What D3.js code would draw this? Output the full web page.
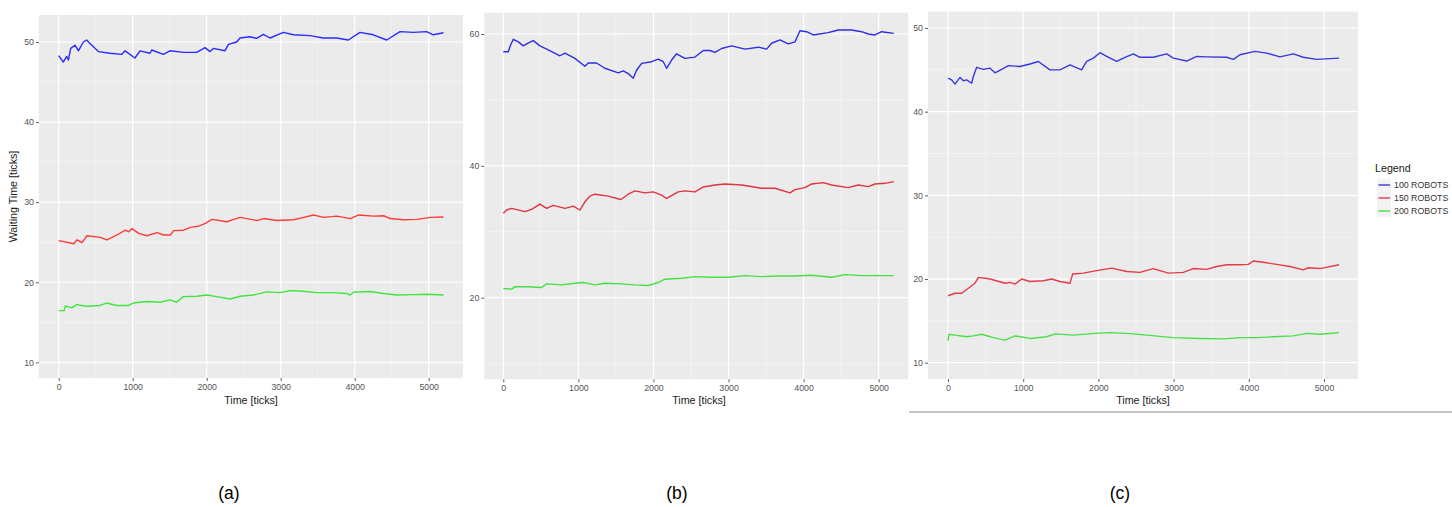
<!DOCTYPE html>
<html>
<head>
<meta charset="utf-8">
<script src="https://cdn.jsdelivr.net/npm/d3@7"></script>
<style>
  html, body { margin: 0; padding: 0; background: #ffffff; }
  svg { display: block; }
  text { font-family: "Liberation Sans", Arial, sans-serif; }
</style>
</head>
<body>
<svg id="chart" width="1452" height="507"></svg>
<script>
// ---- data: waiting time [ticks] against simulation time [ticks] ----
const seriesNames = ["100 ROBOTS", "150 ROBOTS", "200 ROBOTS"];
const xTicks = [0, 1000, 2000, 3000, 4000, 5000];
const xMinor = [500, 1500, 2500, 3500, 4500];

// (a)
const a100 = [[0,48.3],[62,47.5],[108,48.2],[131,47.75],[162,49.2],[221,49.6],[266,48.9],[333,50.0],[378,50.25],[423,49.8],[536,48.8],[693,48.6],[851,48.45],[896,48.9],[1031,48.0],[1099,48.9],[1234,48.6],[1257,49.0],[1414,48.45],[1504,48.9],[1685,48.7],[1865,48.7],[1977,49.3],[2045,48.8],[2090,49.2],[2247,48.9],[2293,49.7],[2405,50.0],[2450,50.5],[2585,50.65],[2675,50.45],[2765,50.95],[2856,50.5],[3036,51.2],[3171,50.9],[3396,50.8],[3576,50.5],[3756,50.5],[3914,50.25],[4071,51.2],[4252,50.9],[4432,50.25],[4612,51.3],[4792,51.2],[4972,51.3],[5062,50.9],[5200,51.15]];
const a150 = [[0,25.2],[203,24.8],[248,25.3],[315,24.95],[383,25.8],[563,25.6],[653,25.3],[788,25.9],[900,26.5],[945,26.3],[990,26.7],[1081,26.1],[1193,25.8],[1329,26.2],[1419,25.9],[1509,25.9],[1554,26.45],[1689,26.5],[1779,26.85],[1892,27.0],[1982,27.35],[2072,27.85],[2274,27.55],[2364,27.85],[2454,28.1],[2680,27.7],[2770,27.95],[2950,27.7],[3175,27.8],[3310,28.1],[3446,28.4],[3581,28.1],[3761,28.25],[3941,27.95],[4054,28.4],[4256,28.25],[4391,28.3],[4481,27.95],[4661,27.8],[4842,27.85],[5022,28.1],[5200,28.15]];
const a200 = [[0,16.45],[72,16.45],[90,17.05],[176,16.8],[243,17.2],[378,17.0],[558,17.1],[648,17.4],[784,17.1],[941,17.1],[1009,17.4],[1189,17.6],[1369,17.5],[1504,17.8],[1594,17.5],[1684,18.2],[1864,18.25],[2000,18.4],[2136,18.2],[2316,17.9],[2451,18.25],[2631,18.4],[2811,18.8],[2991,18.7],[3126,18.95],[3261,18.9],[3486,18.7],[3712,18.7],[3892,18.6],[3937,18.4],[3982,18.75],[4207,18.85],[4387,18.6],[4567,18.4],[4793,18.45],[4973,18.5],[5200,18.4]];

// (b)
const b100 = [[0,57.3],[67,57.3],[89,58.1],[133,59.2],[200,58.8],[266,58.2],[311,58.5],[399,59.0],[488,58.2],[599,57.6],[754,56.7],[821,57.1],[954,56.3],[1087,55.1],[1131,55.6],[1242,55.6],[1353,54.8],[1531,54.1],[1598,54.4],[1664,54.0],[1731,53.3],[1775,54.5],[1842,55.55],[1975,55.8],[2064,56.2],[2131,55.8],[2175,54.8],[2242,56.05],[2308,57.0],[2419,56.3],[2553,56.5],[2664,57.5],[2753,57.5],[2819,57.2],[2908,57.8],[3041,58.2],[3219,57.7],[3396,58.0],[3507,57.7],[3574,58.6],[3685,59.1],[3796,58.5],[3885,58.8],[3951,60.5],[4040,60.35],[4129,59.85],[4328,60.2],[4462,60.6],[4639,60.6],[4772,60.35],[4861,60.0],[4950,59.85],[5039,60.35],[5200,60.1]];
const b150 = [[0,32.8],[44,33.3],[111,33.55],[288,33.05],[377,33.4],[488,34.2],[577,33.55],[666,34.0],[821,33.55],[932,33.9],[1020,33.3],[1087,34.55],[1153,35.4],[1220,35.7],[1397,35.4],[1566,34.9],[1664,35.7],[1753,36.2],[1886,35.9],[1997,36.05],[2108,35.55],[2175,35.05],[2330,36.05],[2419,36.2],[2553,36.05],[2664,36.8],[2819,37.1],[2952,37.25],[3174,37.1],[3440,36.6],[3618,36.6],[3818,35.9],[3885,36.4],[4018,36.7],[4107,37.25],[4262,37.45],[4373,37.1],[4595,36.7],[4728,37.1],[4861,36.85],[4950,37.25],[5084,37.35],[5200,37.6]];
const b200 = [[0,21.4],[111,21.3],[155,21.65],[333,21.65],[510,21.55],[577,22.1],[777,21.95],[954,22.2],[1065,22.3],[1220,21.95],[1353,22.2],[1575,22.1],[1753,21.95],[1930,21.85],[2064,22.3],[2153,22.8],[2375,22.95],[2553,23.2],[2775,23.1],[2997,23.1],[3219,23.35],[3440,23.2],[3662,23.3],[3885,23.3],[4107,23.4],[4373,23.1],[4550,23.5],[4772,23.35],[5200,23.35]];

// (c)
const c100 = [[0,44.0],[48,43.8],[93,43.3],[160,44.1],[204,43.7],[248,43.8],[315,43.4],[337,44.2],[381,45.3],[470,45.05],[559,45.2],[625,44.65],[714,45.05],[802,45.5],[957,45.4],[1090,45.7],[1201,46.0],[1356,45.0],[1489,45.0],[1622,45.6],[1777,45.0],[1844,46.0],[1933,46.4],[2021,47.05],[2110,46.6],[2243,46.0],[2354,46.5],[2465,46.9],[2553,46.5],[2730,46.5],[2908,46.9],[2996,46.4],[3174,46.05],[3307,46.6],[3440,46.55],[3706,46.5],[3794,46.25],[3883,46.8],[4082,47.2],[4238,47.0],[4415,46.55],[4592,46.9],[4725,46.5],[4902,46.25],[5200,46.4]];
const c150 = [[0,18.0],[93,18.3],[182,18.3],[226,18.6],[315,19.2],[359,19.5],[404,20.2],[559,20.0],[759,19.5],[825,19.6],[892,19.4],[980,20.0],[1090,19.7],[1268,19.8],[1378,20.0],[1489,19.7],[1622,19.5],[1658,20.6],[1800,20.7],[1977,21.0],[2177,21.3],[2376,20.9],[2553,20.8],[2730,21.25],[2930,20.7],[3129,20.8],[3262,21.25],[3440,21.15],[3573,21.5],[3706,21.7],[3883,21.7],[3994,21.75],[4060,22.15],[4193,22.0],[4371,21.75],[4548,21.5],[4725,21.1],[4792,21.35],[4947,21.25],[5200,21.7]];
const c200 = [[0,12.6],[13,13.4],[93,13.3],[248,13.1],[337,13.2],[448,13.4],[603,13.0],[759,12.7],[892,13.2],[1090,12.9],[1312,13.1],[1423,13.45],[1667,13.3],[1955,13.5],[2155,13.6],[2376,13.5],[2642,13.3],[2996,13.0],[3351,12.9],[3661,12.85],[3883,13.0],[4104,13.0],[4326,13.1],[4592,13.2],[4770,13.5],[4947,13.4],[5200,13.6]];

const yTicksA = [10, 20, 30, 40, 50];
const yMinorA = [15, 25, 35, 45];
const yTicksB = [20, 40, 60];
const yMinorB = [10, 30, 50];
const yTicksC = [10, 20, 30, 40, 50];
const yMinorC = [15, 25, 35, 45];

// ---- layout of the three panels ----
const panels = [
  { key: "a", series: [a100, a150, a200], yTicks: yTicksA, yMinor: yMinorA,
    colors: ["#2b2bff", "#ff3a3a", "#3ee63e"],
    bg: { l: 39, r: 463, t: 15, b: 378 },
    xr: [58.7, 428.7], yd: [10, 50], yr: [362.3, 42],
    yTitle: true, xTitleX: 251, caption: "(a)", capX: 229 },
  { key: "b", series: [b100, b150, b200], yTicks: yTicksB, yMinor: yMinorB,
    colors: ["#2e2ee0", "#e2323f", "#44e044"],
    bg: { l: 484.3, r: 908.3, t: 12.7, b: 379.3 },
    xr: [503.3, 878.7], yd: [20, 60], yr: [297.7, 34],
    yTitle: false, xTitleX: 699, caption: "(b)", capX: 677 },
  { key: "c", series: [c100, c150, c200], yTicks: yTicksC, yMinor: yMinorC,
    colors: ["#3838e0", "#e63a46", "#48e048"],
    bg: { l: 928, r: 1358, t: 11.7, b: 379 },
    xr: [948, 1324], yd: [10, 50], yr: [362.7, 28],
    yTitle: false, xTitleX: 1143, caption: "(c)", capX: 1120 }
];

const svg = d3.select("#chart");
const defs = svg.append("defs");

function drawPanel(p) {
  const g = svg.append("g").attr("class", "panel-" + p.key);
  const x = d3.scaleLinear().domain([0, 5000]).range(p.xr);
  const y = d3.scaleLinear().domain(p.yd).range(p.yr);
  const bg = p.bg;

  // panel background
  g.append("rect")
    .attr("x", bg.l).attr("y", bg.t)
    .attr("width", bg.r - bg.l).attr("height", bg.b - bg.t)
    .attr("fill", "#ebebeb");

  // minor grid
  g.selectAll(".gy-minor").data(p.yMinor.filter(v => y(v) > bg.t && y(v) < bg.b))
    .enter().append("line")
    .attr("x1", bg.l).attr("x2", bg.r)
    .attr("y1", d => y(d)).attr("y2", d => y(d))
    .attr("stroke", "#f6f6f6").attr("stroke-width", 0.7);
  g.selectAll(".gx-minor").data(xMinor.filter(v => x(v) > bg.l && x(v) < bg.r))
    .enter().append("line")
    .attr("y1", bg.t).attr("y2", bg.b)
    .attr("x1", d => x(d)).attr("x2", d => x(d))
    .attr("stroke", "#f6f6f6").attr("stroke-width", 0.7);

  // major grid
  g.selectAll(".gy").data(p.yTicks)
    .enter().append("line")
    .attr("x1", bg.l).attr("x2", bg.r)
    .attr("y1", d => y(d)).attr("y2", d => y(d))
    .attr("stroke", "#ffffff").attr("stroke-width", 1.2);
  g.selectAll(".gx").data(xTicks.filter(v => x(v) < bg.r))
    .enter().append("line")
    .attr("y1", bg.t).attr("y2", bg.b)
    .attr("x1", d => x(d)).attr("x2", d => x(d))
    .attr("stroke", "#ffffff").attr("stroke-width", 1.2);

  // y axis ticks and labels
  const yAxis = d3.axisLeft(y).tickValues(p.yTicks).tickSize(3).tickPadding(2);
  const ya = g.append("g").attr("transform", `translate(${bg.l},0)`).call(yAxis);
  ya.select(".domain").remove();
  ya.selectAll(".tick line").attr("stroke", "#4d4d4d").attr("stroke-width", 0.9);
  ya.selectAll(".tick text").attr("fill", "#555").attr("font-size", "8.8px")
    .attr("font-family", "'Liberation Sans', Arial, sans-serif");

  // x axis ticks and labels
  const xAxis = d3.axisBottom(x).tickValues(xTicks).tickSize(3).tickPadding(2.5)
    .tickFormat(d3.format("d"));
  const xa = g.append("g").attr("transform", `translate(0,${bg.b})`).call(xAxis);
  xa.select(".domain").remove();
  xa.selectAll(".tick line").attr("stroke", "#4d4d4d").attr("stroke-width", 0.9);
  xa.selectAll(".tick text").attr("fill", "#555").attr("font-size", "8.8px")
    .attr("font-family", "'Liberation Sans', Arial, sans-serif");

  // series lines, clipped to the panel
  const clipId = "clip-" + p.key;
  defs.append("clipPath").attr("id", clipId).append("rect")
    .attr("x", bg.l).attr("y", bg.t)
    .attr("width", bg.r - bg.l).attr("height", bg.b - bg.t);
  const line = d3.line().x(d => x(d[0])).y(d => y(d[1]));
  g.append("g").attr("clip-path", `url(#${clipId})`)
    .selectAll("path").data(p.series).enter().append("path")
    .attr("d", line)
    .attr("fill", "none")
    .attr("stroke", (d, i) => p.colors[i])
    .attr("stroke-width", 1.4)
    .attr("stroke-linejoin", "round");

  // axis titles
  g.append("text")
    .attr("x", p.xTitleX).attr("y", 400).attr("dy", "0.35em")
    .attr("text-anchor", "middle").attr("font-size", "10.7px").attr("fill", "#1a1a1a")
    .text("Time [ticks]");
  if (p.yTitle) {
    g.append("text")
      .attr("transform", `translate(13.5,${(bg.t + bg.b) / 2}) rotate(-90)`)
      .attr("dy", "0.35em")
      .attr("text-anchor", "middle").attr("font-size", "10.7px").attr("fill", "#1a1a1a")
      .text("Waiting Time [ticks]");
  }

  // caption
  svg.append("text")
    .attr("x", p.capX).attr("y", 493).attr("dy", "0.35em")
    .attr("text-anchor", "middle").attr("font-size", "17.5px").attr("fill", "#000")
    .text(p.caption);
}

drawPanel(panels[0]);
drawPanel(panels[1]);

// the third figure sits on its own white sheet over the right edge of (b)
svg.append("rect").attr("x", 909).attr("y", 0).attr("width", 1452 - 909).attr("height", 412)
  .attr("fill", "#ffffff");
svg.append("line").attr("x1", 909).attr("x2", 1452).attr("y1", 412).attr("y2", 412)
  .attr("stroke", "#8c8c8c").attr("stroke-width", 1);

drawPanel(panels[2]);

// legend
const lg = svg.append("g").attr("class", "legend");
lg.append("text").attr("x", 1375).attr("y", 168).attr("dy", "0.35em")
  .attr("font-size", "10.7px").attr("fill", "#1a1a1a").text("Legend");
const legendColors = panels[2].colors;
const ly = d3.scalePoint().domain(seriesNames).range([185, 211]);
const items = lg.selectAll(".item").data(seriesNames).enter().append("g");
items.append("rect")
  .attr("x", 1377).attr("y", d => ly(d) - 6.5).attr("width", 14).attr("height", 13)
  .attr("fill", "#f2f2f2");
items.append("line")
  .attr("x1", 1378.5).attr("x2", 1390)
  .attr("y1", d => ly(d)).attr("y2", d => ly(d))
  .attr("stroke", (d, i) => legendColors[i]).attr("stroke-width", 1.4);
items.append("text")
  .attr("x", 1394).attr("y", d => ly(d)).attr("dy", "0.35em")
  .attr("font-size", "8.8px").attr("fill", "#333").text(d => d);
</script>
</body>
</html>
